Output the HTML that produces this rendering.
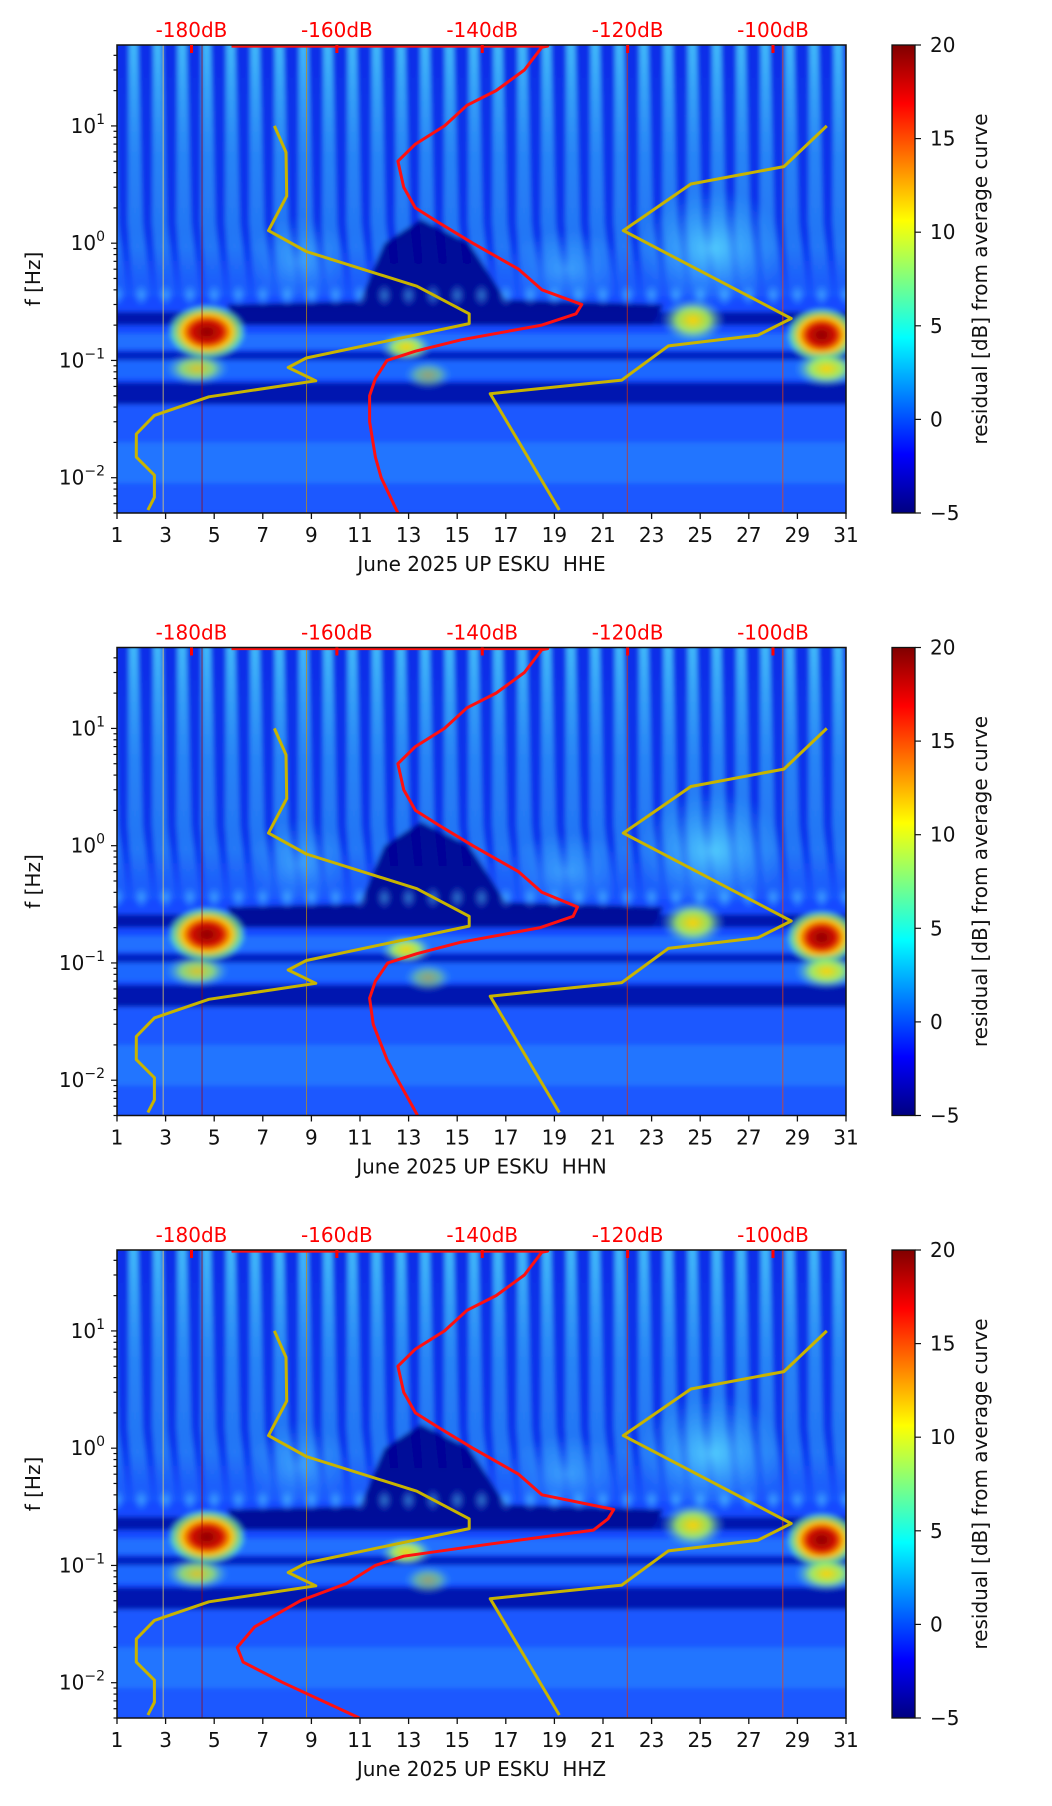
<!DOCTYPE html>
<html><head><meta charset="utf-8"><style>
html,body{margin:0;padding:0;background:#fff;}
svg{display:block;font-family:"DejaVu Sans","Liberation Sans",sans-serif;}
</style></head><body>
<svg id="fig" width="1052" height="1806" viewBox="0 0 1052 1806" xmlns="http://www.w3.org/2000/svg">
<defs>
<linearGradient id="jet" x1="0" y1="1" x2="0" y2="0">
<stop offset="0" stop-color="#000080"/><stop offset="0.125" stop-color="#0000ff"/><stop offset="0.375" stop-color="#00ffff"/><stop offset="0.625" stop-color="#ffff00"/><stop offset="0.875" stop-color="#ff0000"/><stop offset="1" stop-color="#800000"/>
</linearGradient>
<linearGradient id="streak" x1="0" y1="0" x2="0" y2="1">
<stop offset="0" stop-color="#50e0ff" stop-opacity="0.8"/><stop offset="0.45" stop-color="#40c8ff" stop-opacity="0.55"/><stop offset="0.8" stop-color="#40c0ff" stop-opacity="0.45"/><stop offset="1" stop-color="#40c0ff" stop-opacity="0"/>
</linearGradient>
<linearGradient id="upper" x1="0" y1="0" x2="0" y2="1">
<stop offset="0" stop-color="#0a2ee8"/><stop offset="0.75" stop-color="#0a34ec"/><stop offset="1" stop-color="#1a55ff"/>
</linearGradient>
<radialGradient id="hot"><stop offset="0" stop-color="#880000"/><stop offset="0.4" stop-color="#d81000"/><stop offset="0.62" stop-color="#ffc800"/><stop offset="0.85" stop-color="#70ff90" stop-opacity="0.7"/><stop offset="1" stop-color="#40c0ff" stop-opacity="0"/></radialGradient>
<radialGradient id="warm"><stop offset="0" stop-color="#ffd000"/><stop offset="0.5" stop-color="#b0ff50" stop-opacity="0.85"/><stop offset="1" stop-color="#40c0ff" stop-opacity="0"/></radialGradient>
<radialGradient id="haze"><stop offset="0" stop-color="#60e8ff" stop-opacity="0.75"/><stop offset="1" stop-color="#40c0ff" stop-opacity="0"/></radialGradient>
<filter id="soft" x="-5%" y="-5%" width="110%" height="110%"><feGaussianBlur stdDeviation="2.5"/></filter>
</defs>
</svg>
<script>
// ---- data ----
const dayTicks = [1,3,5,7,9,11,13,15,17,19,21,23,25,27,29,31];
const dbTicks = [-180,-160,-140,-120,-100];
const cbTicks = [-5,0,5,10,15,20];
const yTickExp = [1,0,-1,-2];
const channels = ["HHE","HHN","HHZ"];
const redFreqUpper = [48,48,47,30,20,15,10,7,5,3,2,1.5,1,0.6,0.4];
const redDbUpper = [-174.5,-131,-131.8,-134.2,-138.1,-142.1,-145.2,-149.2,-151.6,-150.8,-149.2,-146.0,-141.3,-135.0,-131.8];
const redFreqLower1 = [0.3,0.25,0.2,0.15,0.12,0.1,0.07,0.05,0.03,0.015,0.01,0.005];
const redDbLower1 = [-126.3,-127.1,-131.8,-142.9,-149.2,-153.1,-154.7,-155.5,-155.5,-154.7,-153.9,-151.6];
const redFreqLower2 = [0.3,0.25,0.2,0.15,0.12,0.1,0.07,0.05,0.03,0.015,0.01,0.005];
const redDbLower2 = [-126.9,-127.5,-132.0,-143.0,-149.0,-153.0,-154.7,-155.5,-155.0,-153.1,-151.6,-148.9];
const redFreqLower3 = [0.3,0.25,0.2,0.15,0.12,0.1,0.07,0.05,0.03,0.02,0.015,0.01,0.005];
const redDbLower3 = [-121.9,-122.7,-124.7,-139.7,-150.8,-154.7,-158.7,-165.0,-171.3,-173.7,-172.9,-167.4,-156.9];
const yelFreqA = [10,5.96,2.52,1.28,0.85,0.43,0.25,0.206,0.105,0.087,0.067,0.049,0.034,0.0236,0.015,0.0105,0.0068,0.0053];
const yelDbA = [-168.6,-167.0,-166.9,-169.4,-164.2,-149.0,-141.8,-141.8,-164.2,-166.7,-162.9,-177.6,-185.1,-187.6,-187.6,-185.1,-185.1,-186.0];
const yelFreqB = [10,4.5,3.2,1.28,0.228,0.164,0.133,0.068,0.052,0.0053];
const yelDbB = [-92.6,-98.5,-111.3,-120.6,-97.5,-102.1,-114.4,-120.8,-138.9,-129.4];

// ---- geometry ----
const NS="http://www.w3.org/2000/svg";
const svg=document.getElementById('fig');
const L=117,R=846,T0=45,H=468,STEP=602.5;
const fTop=49,fBot=0.005;
function mk(tag,attrs,parent){const e=document.createElementNS(NS,tag);for(const k in attrs)e.setAttribute(k,attrs[k]);(parent||svg).appendChild(e);return e;}
function xd(d){return L+(d-1)*(R-L)/30;}
function xdb(db){return 191.5+(db+180)*(773-191.5)/80;}

channels.forEach((ch,pi)=>{
  const T=T0+pi*STEP, B=T+H;
  const yf=f=>T+(Math.log10(fTop)-Math.log10(f))/(Math.log10(fTop)-Math.log10(fBot))*H;
  const g=mk('g',{});
  
  
  const cp=mk('clipPath',{id:'clip'+pi},g);
  mk('rect',{x:L,y:T,width:R-L,height:H},cp);
  const bg=mk('g',{'clip-path':'url(#clip'+pi+')'},g);
  
  
  const sb=mk('g',{filter:'url(#soft)'},bg);
  const rectF=(d1,d2,f1,f2,fill,op)=>mk('rect',{x:xd(d1),y:yf(f1),width:xd(d2)-xd(d1),height:yf(f2)-yf(f1),fill:fill,opacity:op||1},sb);
  rectF(0,32,60,0.004,'#1448ff');
  rectF(0,32,60,0.35,'url(#upper)');
  const dw=(R-L)/30;
  for(let d=0;d<=30;d++){
    const x0=xd(d+0.5), yb=yf(0.33);
    mk('polygon',{points:[[x0,T-5],[x0+dw*0.35,T-5],[x0+dw*0.55,yf(1.5)],[x0+dw*0.9,yb],[x0+dw*0.2,yb],[x0-dw*0.05,yf(1.5)]].map(p=>p.join(',')).join(' '),fill:'url(#streak)'},sb);
  }
  mk('ellipse',{cx:xd(25.5),cy:yf(0.9),rx:75,ry:60,fill:'url(#haze)'},sb);
  mk('ellipse',{cx:xd(8.5),cy:yf(0.7),rx:50,ry:45,fill:'url(#haze)',opacity:0.6},sb);
  mk('ellipse',{cx:xd(19.5),cy:yf(0.6),rx:60,ry:40,fill:'url(#haze)',opacity:0.6},sb);
  // dark bands
  mk('polygon',{points:[[xd(5.5),yf(0.3)],[xd(11),yf(0.32)],[xd(12),yf(1.0)],[xd(13.5),yf(1.6)],[xd(15.5),yf(1.0)],[xd(17),yf(0.33)],[xd(23.5),yf(0.3)],[xd(23),yf(0.2)],[xd(6),yf(0.2)]].map(p=>p.join(',')).join(' '),fill:'#00008e',opacity:0.9},sb);
  rectF(0,32,0.26,0.2,'#000c9a',0.8);
  rectF(0,32,0.17,0.125,'#2a8cff',0.6);
  rectF(0,32,0.12,0.1,'#0010a8',0.7);
  rectF(0,32,0.1,0.07,'#1e70ff',0.8);
  rectF(0,32,0.065,0.042,'#000c9c',0.8);
  rectF(0,32,0.042,0.005,'#1a58ff');
  rectF(0,32,0.02,0.009,'#2c90ff',0.5);
  for(let d=0;d<=30;d++){
    mk('ellipse',{cx:xd(d+1),cy:yf(0.36),rx:dw*0.35,ry:12,fill:'url(#haze)',opacity:0.7},sb);
  }
  mk('ellipse',{cx:xd(4.7),cy:yf(0.175),rx:40,ry:28,fill:'url(#hot)'},sb);
  mk('ellipse',{cx:xd(30),cy:yf(0.165),rx:36,ry:28,fill:'url(#hot)'},sb);
  mk('ellipse',{cx:xd(12.9),cy:yf(0.13),rx:26,ry:14,fill:'url(#warm)'},sb);
  mk('ellipse',{cx:xd(24.7),cy:yf(0.22),rx:32,ry:22,fill:'url(#warm)'},sb);
  mk('ellipse',{cx:xd(4.3),cy:yf(0.085),rx:32,ry:16,fill:'url(#warm)',opacity:0.85},sb);
  mk('ellipse',{cx:xd(30.2),cy:yf(0.085),rx:32,ry:18,fill:'url(#warm)'},sb);
  mk('ellipse',{cx:xd(13.8),cy:yf(0.075),rx:24,ry:14,fill:'url(#warm)',opacity:0.55},sb);
  // thin vertical lines (sharp)
  [[4.5,'#a00000'],[22,'#e03000'],[8.8,'#d09000'],[2.9,'#ffe060'],[28.4,'#ff4000']].forEach(v=>{
    mk('line',{x1:xd(v[0]),x2:xd(v[0]),y1:T,y2:B,stroke:v[1],'stroke-width':1,opacity:0.7},bg);
  });
  // curves
  const line=(fs,dbs,col,w,name)=>{
    const p=mk('polyline',{points:fs.map((f,i)=>xdb(dbs[i]).toFixed(1)+','+yf(f).toFixed(1)).join(' '),fill:'none',stroke:col,'stroke-width':w,'stroke-linejoin':'round'},bg);
    
    
  };
  const lf=[redFreqLower1,redFreqLower2,redFreqLower3][pi], ld=[redDbLower1,redDbLower2,redDbLower3][pi];
  line(yelFreqA,yelDbA,'#c8b400',3,'yellow-curve-low');
  line(yelFreqB,yelDbB,'#c8b400',3,'yellow-curve-high');
  line(redFreqUpper.concat(lf),redDbUpper.concat(ld),'#ff1010',3,'red-average-curve');
  // frame
  const fr=mk('rect',{x:L,y:T,width:R-L,height:H,fill:'none',stroke:'#111','stroke-width':1.5},g);
  
  
  // x ticks
  dayTicks.forEach(d=>{
    mk('line',{x1:xd(d),x2:xd(d),y1:B,y2:B+6,stroke:'#111','stroke-width':1.3},g);
    const t=mk('text',{x:xd(d),y:B+29,'font-size':20,'text-anchor':'middle',fill:'#111'},g);
    t.textContent=d;
    
    
  });
  const xl=mk('text',{x:(L+R)/2,y:B+58,'font-size':20,'text-anchor':'middle',fill:'#111'},g);
  xl.textContent='June 2025 UP ESKU\u00a0\u00a0'+ch;
  
  
  // top dB ticks
  dbTicks.forEach(db=>{
    mk('line',{x1:xdb(db),x2:xdb(db),y1:T,y2:T+8,stroke:'#ff0000','stroke-width':3},g);
    const t=mk('text',{x:xdb(db),y:T-8,'font-size':20,'text-anchor':'middle',fill:'#ff0000'},g);
    t.textContent=db+'dB';
    
    
  });
  // y ticks
  for(let e=-3;e<=1;e++){for(let m=1;m<=9;m++){const f=m*Math.pow(10,e);if(f<fBot||f>fTop)continue;
    mk('line',{x1:L-(m===1?6:3.5),x2:L,y1:yf(f),y2:yf(f),stroke:'#111','stroke-width':1.2},g);}}
  yTickExp.forEach(e=>{
    const t=mk('text',{x:L-12,y:yf(Math.pow(10,e))+7,'font-size':20,'text-anchor':'end',fill:'#111'},g);
    t.textContent='10';
    const s=mk('tspan',{dy:-9,'font-size':14},t);
    s.textContent=e<0?'\u2212'+(-e):String(e);
    
    
  });
  const yl=mk('text',{x:0,y:0,'font-size':20,'text-anchor':'middle',fill:'#111',transform:'translate(40,'+(T+H/2)+') rotate(-90)'},g);
  yl.textContent='f [Hz]';
  
  
  // colorbar
  const cb=mk('rect',{x:892,y:T,width:23,height:H,fill:'url(#jet)',stroke:'#111','stroke-width':1.3},g);
  
  
  cbTicks.forEach(v=>{
    const y=B-(v+5)/25*H;
    mk('line',{x1:915,x2:921,y1:y,y2:y,stroke:'#111','stroke-width':1.2},g);
    const t=mk('text',{x:930,y:y+7,'font-size':20,fill:'#111'},g);
    t.textContent=v<0?'\u2212'+(-v):v;
    
    
  });
  const cl=mk('text',{x:0,y:0,'font-size':20,'text-anchor':'middle',fill:'#111',transform:'translate(987,'+(T+H/2)+') rotate(-90)'},g);
  cl.textContent='residual [dB] from average curve';
  
  
});
</script>
</body></html>
